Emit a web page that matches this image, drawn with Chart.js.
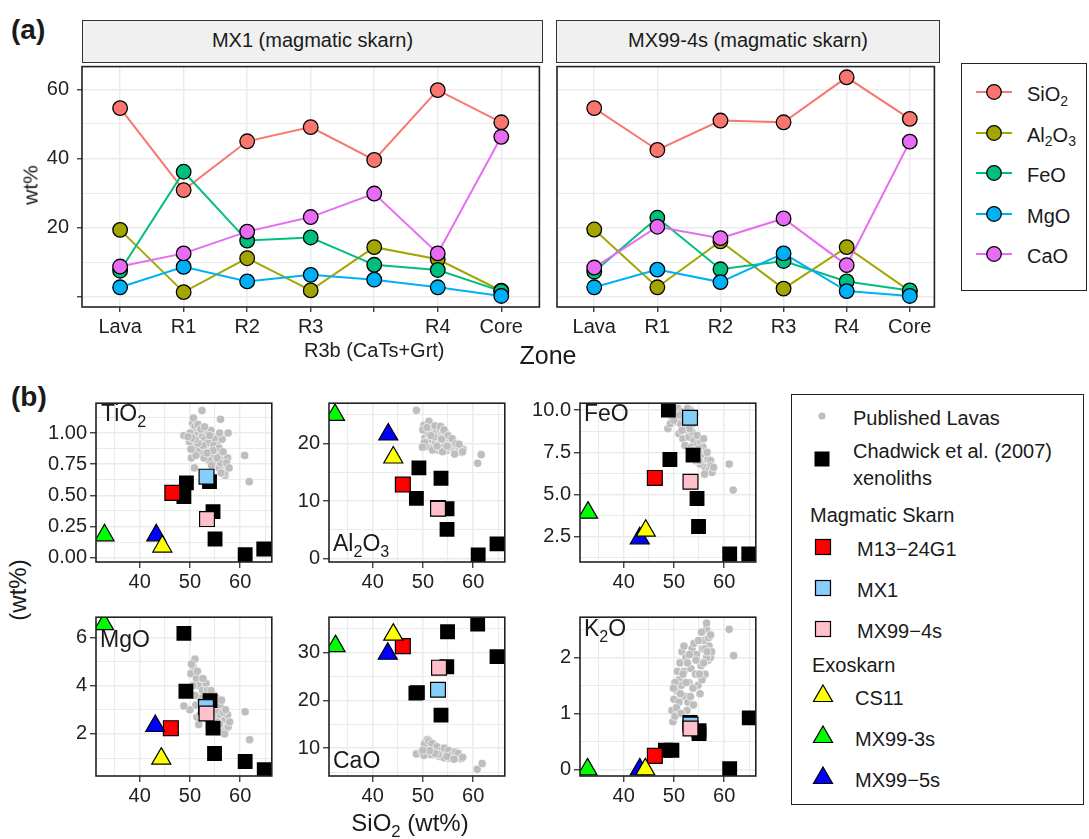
<!DOCTYPE html>
<html>
<head>
<meta charset="utf-8">
<script src="https://cdn.jsdelivr.net/npm/chart.js@4.4.1/dist/chart.umd.min.js"></script>
<style>
  body { margin: 0; background: #fff; }
  #fig { position: relative; width: 1089px; height: 839px; overflow: hidden;
         font-family: "Liberation Sans", Arial, sans-serif; color: #1a1a1a; }
  canvas { position: absolute; }
  .t { position: absolute; white-space: nowrap; line-height: 1; transform: translateY(-50%); }
  .c { transform: translate(-50%, -50%); }
  .rot { transform: translate(-50%, -50%) rotate(-90deg); }
  .strip { position: absolute; background: #F0F0F0; border: 1.6px solid #333; box-sizing: border-box;
           text-align: center; font-size: 20px; line-height: 39px; color: #1a1a1a; }
  .box { position: absolute; border: 1.6px solid #222; box-sizing: border-box; }
  .mk { position: absolute; transform: translate(-50%, -50%); }
  sub { font-size: 70%; vertical-align: baseline; position: relative; top: 0.35em; }
</style>
</head>
<body>
<div id="fig">
  <div class="t" style="left:11px;top:30px;font-size:28px;font-weight:bold;">(a)</div>
  <div class="t" style="left:11px;top:397px;font-size:28px;font-weight:bold;">(b)</div>

  <div class="strip" style="left:82px;top:20px;width:461px;height:43px;">MX1 (magmatic skarn)</div>
  <div class="strip" style="left:556px;top:20px;width:384px;height:43px;">MX99-4s (magmatic skarn)</div>

  <canvas id="cMX1" width="548" height="310" style="left:0px;top:58px;width:548px;height:310px;"></canvas>
  <canvas id="cMX99" width="396" height="310" style="left:547px;top:58px;width:396px;height:310px;"></canvas>

  <div class="t rot" style="left:30px;top:185px;font-size:21px;">wt%</div>
  <div class="t c" style="left:548px;top:355px;font-size:25px;">Zone</div>

  <div class="box" id="legA" style="left:961px;top:63px;width:126px;height:228px;"></div>

  <canvas id="cTiO2" width="248" height="211" style="left:36px;top:391px;width:248px;height:211px;"></canvas>
  <canvas id="cAl2O3" width="248" height="211" style="left:269px;top:391px;width:248px;height:211px;"></canvas>
  <canvas id="cFeO" width="248" height="211" style="left:520px;top:391px;width:248px;height:211px;"></canvas>
  <canvas id="cMgO" width="248" height="211" style="left:36px;top:605px;width:248px;height:211px;"></canvas>
  <canvas id="cCaO" width="248" height="211" style="left:269px;top:605px;width:248px;height:211px;"></canvas>
  <canvas id="cK2O" width="248" height="211" style="left:520px;top:605px;width:248px;height:211px;"></canvas>

  <div class="t" style="left:101px;top:413px;font-size:23px;">TiO<sub>2</sub></div>
  <div class="t" style="left:333px;top:543px;font-size:23px;">Al<sub>2</sub>O<sub>3</sub></div>
  <div class="t" style="left:584px;top:413px;font-size:23px;">FeO</div>
  <div class="t" style="left:100px;top:639px;font-size:23px;">MgO</div>
  <div class="t" style="left:333px;top:760px;font-size:23px;">CaO</div>
  <div class="t" style="left:584px;top:628px;font-size:23px;">K<sub>2</sub>O</div>

  <div class="t rot" style="left:18px;top:590px;font-size:24px;">(wt%)</div>
  <div class="t c" style="left:410px;top:823px;font-size:24px;">SiO<sub>2</sub> (wt%)</div>

  <div class="box" id="legB" style="left:791px;top:394px;width:293px;height:411px;"></div>
</div>

<script>
// ---------- (a) zone profiles ----------
var oxides = ['SiO2', 'Al2O3', 'FeO', 'MgO', 'CaO'];
var zonesMX1 = ['Lava', 'R1', 'R2', 'R3', 'R3b (CaTs+Grt)', 'R4', 'Core'];
var zonesMX99 = ['Lava', 'R1', 'R2', 'R3', 'R4', 'Core'];
var wtTicks = [0, 10, 20, 30, 40, 50, 60];          // labelled: 20, 40, 60

var mx1SiO2  = [54.6, 30.9, 45.0, 49.1, 39.6, 59.8, 50.5];
var mx1Al2O3 = [19.4, 1.4, 11.2, 1.9, 14.4, 10.9, 1.8];
var mx1FeO   = [7.6, 36.2, 16.3, 17.2, 9.3, 7.8, 1.7];
var mx1MgO   = [2.8, 8.7, 4.5, 6.4, 5.0, 2.8, 0.3];
var mx1CaO   = [8.8, 12.6, 18.9, 23.1, 29.9, 12.6, 46.3];

var mx99SiO2  = [54.6, 42.5, 51.0, 50.5, 63.5, 51.5];
var mx99Al2O3 = [19.5, 2.8, 16.1, 2.4, 14.4, 1.7];
var mx99FeO   = [7.3, 22.9, 8.0, 10.4, 4.5, 1.9];
var mx99MgO   = [2.8, 7.9, 4.3, 12.6, 1.7, 0.3];
var mx99CaO   = [8.5, 20.3, 17.0, 22.7, 9.2, 44.9];

// ---------- (b) Harker diagrams, [SiO2, oxide] ----------
var sio2Ticks  = [35, 40, 45, 50, 55, 60, 65];
var tio2Ticks  = [0, 0.125, 0.25, 0.375, 0.5, 0.625, 0.75, 0.875, 1, 1.125];
var al2o3Ticks = [0, 5, 10, 15, 20, 25];
var feoTicks   = [1.25, 2.5, 3.75, 5, 6.25, 7.5, 8.75, 10];
var mgoTicks   = [1, 2, 3, 4, 5, 6];
var caoTicks   = [5, 10, 15, 20, 25, 30, 35];
var k2oTicks   = [0, 0.5, 1, 1.5, 2, 2.5];

var lavaTiO2 = [[52.4,1.18],[56.1,1.11],[57.6,1.00],[60.9,0.82],[61.8,0.61],[48.8,0.98],[50.3,0.80],[50.9,0.72],
  [50.5,1.08],[51.0,1.05],[50.8,1.00],[51.3,0.98],[50.0,1.00],[51.8,0.95],[52.0,0.92],[52.5,0.97],[53.0,0.95],
  [53.5,1.02],[54.2,1.02],[54.5,0.97],[55.0,0.95],[55.5,0.90],[53.2,0.88],[52.4,0.85],[51.5,0.87],[50.8,0.90],
  [54.0,0.85],[54.8,0.82],[55.5,0.85],[56.0,0.82],[56.3,0.78],[55.2,0.76],[56.8,0.74],[57.2,0.70],[56.5,0.70],
  [55.8,0.72],[57.0,0.66],[56.1,0.76],[53.8,0.78],[57.5,0.80],[52.8,0.80],[51.2,0.82],[49.9,0.93],[50.2,0.87],
  [53.6,0.92],[54.3,0.74],[50.7,1.12],[51.6,1.07],[52.2,1.03],[52.9,1.05],[53.9,0.98],[54.7,0.90],[55.8,0.88],
  [56.6,0.85],[57.3,0.76],[56.9,0.68],[55.4,0.80],[54.6,0.86],[53.4,0.84],[52.6,0.90],[51.6,0.92],[51.0,0.95],
  [50.4,0.96],[49.6,0.97],[56.4,0.95],[55.9,1.00],[57.8,0.72],[56.2,0.68]];
var lavaAl2O3 = [[48.7,25.8],[61.6,18.1],[60.9,16.6],[50.2,23.2],[51.2,23.9],[51.8,22.6],[52.6,22.0],[53.2,22.7],
  [53.8,21.5],[50.4,21.0],[50.9,20.4],[51.3,19.8],[51.6,20.8],[52.1,19.4],[52.5,20.2],[52.9,18.9],[53.3,20.0],
  [53.6,19.2],[54.0,20.5],[54.3,19.6],[54.7,18.8],[55.0,20.1],[55.3,19.3],[55.7,19.8],[56.1,19.1],[56.4,18.7],
  [56.8,19.5],[57.3,19.0],[57.6,18.5],[58.0,19.0],[55.2,21.0],[54.5,21.9],[53.0,21.0],[51.0,21.9],[52.2,21.2],
  [50.6,19.5],[56.0,20.3],[53.9,18.6],[50.0,22.4],[50.8,22.8],[51.6,21.4],[52.4,23.1],[53.5,23.0],[54.2,22.4],
  [55.0,21.4],[55.8,20.9],[56.6,20.0],[57.2,19.9],[57.9,18.6],[51.9,18.9],[50.3,20.2],[53.7,20.8],[54.8,19.6],
  [56.3,18.2],[52.8,19.6],[49.9,19.4]];
var lavaFeO = [[48.8,8.9],[49.6,9.6],[50.2,9.9],[50.8,10.1],[51.5,9.9],[52.3,9.8],[53.3,10.0],[50.6,9.3],[51.3,9.2],
  [52.0,9.5],[51.0,8.6],[51.8,8.3],[52.5,8.8],[53.0,8.4],[52.2,7.9],[53.6,8.7],[54.0,8.2],[53.5,7.8],[54.3,7.6],
  [54.8,8.0],[55.4,8.1],[55.0,7.4],[55.6,7.5],[56.0,7.2],[55.5,6.9],[56.4,6.9],[56.8,7.1],[56.2,6.6],[57.0,6.5],
  [57.6,6.3],[57.3,7.0],[55.2,6.8],[54.4,7.0],[53.8,9.2],[52.8,9.3],[61.0,6.8],[61.8,5.26],[49.3,9.2],[50.0,9.4],
  [51.1,9.7],[52.7,10.1],[54.2,9.8],[52.4,9.0],[53.1,8.9],[54.6,8.5],[55.8,7.8],[56.6,7.5],[57.4,6.7],[56.1,6.2],
  [55.0,7.0],[53.7,7.6],[54.9,7.7],[57.9,6.6],[51.6,8.8],[55.9,8.3]];
var lavaMgO = [[51.0,5.1],[50.6,4.8],[50.2,4.5],[51.3,4.3],[51.8,4.0],[50.6,4.0],[52.5,3.8],[53.2,4.1],[52.0,3.5],
  [53.0,3.3],[52.5,3.1],[53.8,3.5],[54.4,3.4],[54.0,3.0],[55.0,3.1],[55.5,2.9],[54.6,2.7],[56.0,2.7],[56.5,2.5],
  [57.0,2.6],[57.5,2.8],[56.2,2.3],[57.2,2.2],[55.8,2.1],[55.0,2.4],[53.5,2.6],[51.75,2.39],[51.4,2.7],[50.0,3.0],
  [48.8,3.16],[52.0,2.8],[53.8,2.3],[57.6,2.3],[54.8,3.6],[61.0,2.92],[61.9,1.76],[50.3,4.9],[51.5,4.6],[51.0,3.6],
  [52.6,4.3],[53.5,3.8],[54.2,3.8],[55.2,3.5],[56.0,3.2],[56.6,2.9],[57.1,3.0],[56.9,2.0],[55.4,2.5],[54.3,2.5],
  [52.9,2.9],[51.2,3.2],[56.3,3.4],[55.9,2.4],[57.9,2.5]];
var lavaCaO = [[48.7,8.8],[49.8,9.2],[50.5,11.3],[50.9,11.8],[51.1,10.8],[50.7,10.2],[51.5,10.5],[51.8,9.9],[52.2,9.4],
  [52.0,8.6],[52.6,9.7],[53.0,9.0],[53.4,10.0],[53.6,8.8],[54.0,9.3],[54.5,8.6],[54.8,9.1],[55.3,8.4],[55.6,9.0],
  [56.0,8.2],[56.4,8.6],[56.8,8.0],[57.2,8.4],[57.6,7.8],[55.0,7.9],[53.2,8.3],[51.5,8.7],[50.2,8.5],[52.4,10.6],
  [54.2,8.0],[60.8,5.6],[61.8,6.8],[50.3,10.8],[51.2,11.5],[51.8,11.0],[52.8,10.3],[53.8,9.6],[54.3,10.0],
  [55.1,9.5],[55.8,8.6],[56.5,9.2],[57.0,8.9],[57.9,8.1],[53.0,8.7],[52.4,8.9],[54.8,8.3],[56.2,7.7],[51.3,9.5],
  [50.0,9.6]];
var lavaK2O = [[49.8,0.85],[49.6,1.05],[50.2,0.95],[50.0,1.25],[50.6,1.4],[51.0,1.6],[50.7,1.75],[51.2,1.9],[51.6,2.1],
  [52.0,2.2],[52.4,2.0],[52.0,1.75],[51.5,1.5],[52.2,1.3],[52.8,1.2],[53.0,1.55],[53.4,1.8],[53.6,2.15],[54.0,2.25],
  [54.5,2.05],[54.3,1.7],[54.8,1.5],[55.2,1.35],[55.4,1.85],[55.7,2.15],[56.0,2.3],[56.5,2.5],[56.5,2.61],[56.8,1.95],
  [57.0,2.2],[57.3,2.0],[56.2,1.7],[55.6,1.6],[53.3,1.3],[51.0,1.2],[50.2,1.55],[61.0,2.5],[61.9,2.03],[49.9,1.45],
  [50.5,1.1],[51.3,1.35],[51.8,1.7],[52.4,1.55],[52.7,1.9],[53.1,2.05],[53.8,1.45],[54.4,1.95],[54.9,2.3],[55.5,2.45],
  [56.2,2.15],[56.9,2.35],[57.3,2.4],[56.5,2.0],[55.9,1.9],[55.1,1.7],[53.9,1.15],[52.6,1.05],[51.4,1.0],[57.5,2.1],
  [56.6,2.1]];

var xenoTiO2  = [[49.3,0.60],[48.8,0.49],[53.9,0.61],[54.6,0.37],[55.0,0.15],[61.0,0.025],[64.7,0.07]];
var xenoAl2O3 = [[49.2,15.8],[48.7,10.5],[53.6,14.0],[54.8,8.7],[54.8,5.1],[61.0,0.66],[64.75,2.6]];
var xenoFeO   = [[48.9,10.0],[49.2,7.07],[53.8,7.33],[54.6,4.76],[54.9,3.1],[61.1,1.47],[64.9,1.47]];
var xenoMgO   = [[48.8,6.17],[49.2,3.77],[54.0,3.38],[54.6,2.24],[54.9,1.19],[61.0,0.86],[64.8,0.52]];
var xenoCaO   = [[48.6,21.5],[48.9,21.6],[53.6,16.9],[54.75,27.0],[54.9,34.3],[60.9,35.9],[64.75,29.1]];
var xenoK2O   = [[48.3,0.34],[49.6,0.34],[53.2,0.84],[55.0,0.69],[55.0,0.64],[61.1,0.01],[65.0,0.92]];

// samples, one point per panel: TiO2, Al2O3, FeO, MgO, CaO, K2O
var m1324G1 = [[46.5,0.52],[46.0,12.9],[46.2,5.98],[46.2,2.24],[46.0,31.3],[46.2,0.24]];
var mx1     = [[53.3,0.65],[53.0,8.8],[53.2,9.55],[53.2,3.12],[53.0,22.2],[53.3,0.80]];
var mx994s  = [[53.4,0.31],[53.0,8.7],[53.3,5.75],[53.3,2.85],[53.2,26.8],[53.3,0.73]];
var cs11    = [[44.5,0.09],[44.1,17.6],[44.4,2.85],[44.3,0.98],[44.1,33.7],[44.3,0.0]];
var mx993s  = [[33.0,0.18],[32.5,25.0],[32.9,3.92],[32.9,6.55],[32.6,31.3],[32.8,0.0]];
var mx995s  = [[43.3,0.18],[43.1,21.6],[43.2,2.4],[43.1,2.33],[43.0,29.7],[43.2,0.0]];

var lavaLabel = 'Published Lavas';
var xenoLabel = ['Chadwick et al. (2007)', 'xenoliths'];
var groupLabels = ['Magmatic Skarn', 'Exoskarn'];
var sampleNames = ['M13\u221224G1', 'MX1', 'MX99\u22124s', 'CS11', 'MX99-3s', 'MX99\u22125s'];

// ---------- styling ----------
Chart.defaults.font.family = '"Liberation Sans", Arial, sans-serif';
Chart.defaults.color = '#222';

var oxideColors = ['#F8766D', '#A3A500', '#00BF7D', '#00B0F6', '#E76BF3'];
var samples = [
  { pts: m1324G1, color: '#FF0000', shape: 'rect', order: 7 },
  { pts: mx1, color: '#87CEFA', shape: 'rect', order: 6 },
  { pts: mx994s, color: '#FFC0CB', shape: 'rect', order: 5 },
  { pts: cs11, color: '#FFFF00', shape: 'triangle', order: 2 },
  { pts: mx993s, color: '#00FF00', shape: 'triangle', order: 4 },
  { pts: mx995s, color: '#0000FF', shape: 'triangle', order: 3 }
];

function sub(name) { return name.replace(/(\d)/g, '<sub>$1</sub>'); }
function isMul(v, step) { var r = v / step; return Math.abs(r - Math.round(r)) < 1e-6; }
function xy(arr) { return arr.map(function (p) { return { x: p[0], y: p[1] }; }); }

// black frame round each panel, drawn over the data like ggplot's panel.border
var boxPlugin = {
  id: 'panelBox',
  afterDraw: function (chart) {
    var a = chart.chartArea, c = chart.ctx;
    c.save();
    c.strokeStyle = '#222';
    c.lineWidth = 1.6;
    c.strokeRect(a.left, a.top, a.right - a.left, a.bottom - a.top);
    c.restore();
  }
};

function axis(o) {
  return {
    type: 'linear', min: o.min, max: o.max,
    afterBuildTicks: function (s) { s.ticks = o.ticks.map(function (v) { return { value: v }; }); },
    afterFit: function (s) {
      if (o.w != null) s.width = o.w;
      if (o.h != null) s.height = o.h;
      s.paddingTop = 0; s.paddingBottom = 0; s.paddingLeft = 0; s.paddingRight = 0;
    },
    grid: {
      color: '#EBEBEB',
      lineWidth: function (c) { return c.tick && isMul(c.tick.value, o.major) ? 1.5 : 1.1; },
      tickColor: function (c) { return c.tick && isMul(c.tick.value, o.major) ? '#333' : 'rgba(0,0,0,0)'; },
      drawTicks: o.tick > 0, tickLength: o.tick, tickWidth: 1.3
    },
    border: { display: false },
    ticks: {
      autoSkip: false, maxRotation: 0, minRotation: 0,
      display: o.labels !== false, padding: o.pad, color: '#222', font: { size: 20 },
      callback: function (v) { return isMul(v, o.major) ? o.fmt(v) : ''; }
    }
  };
}

function baseOptions(scales, pad) {
  return {
    responsive: false, animation: false, events: [],
    layout: { padding: pad },
    plugins: { legend: { display: false }, tooltip: { enabled: false } },
    scales: scales
  };
}

function zoneChart(id, zones, series, xr, yAxisOpts, padR) {
  var ds = [];
  series.forEach(function (vals, i) {
    var pts = vals.map(function (v, k) { return { x: k, y: v }; });
    // lines under all points, later oxides on top
    ds.push({ label: oxides[i], data: pts, showLine: true, borderColor: oxideColors[i], borderWidth: 2,
              pointRadius: 0, order: 20 - i, clip: false });
    ds.push({ label: oxides[i], data: pts, showLine: false, backgroundColor: oxideColors[i], borderColor: '#000',
              borderWidth: 1.3, pointRadius: 7.3, order: 10 - i, clip: false });
  });
  var xAx = axis({ min: xr[0], max: xr[1], ticks: zones.map(function (z, k) { return k; }),
    major: 1, tick: 5, pad: 3, h: 61,
    fmt: function (v) { var z = zones[Math.round(v)]; return z.indexOf('R3b') === 0 ? ['', z] : z; } });
  new Chart(document.getElementById(id), {
    type: 'scatter',
    data: { datasets: ds },
    options: baseOptions({ x: xAx, y: axis(yAxisOpts) }, { top: 4, right: padR, left: 0, bottom: 0 }),
    plugins: [boxPlugin]
  });
}

zoneChart('cMX1', zonesMX1, [mx1SiO2, mx1Al2O3, mx1FeO, mx1MgO, mx1CaO], [-0.6, 6.6],
  { min: -2.9, max: 66.6, ticks: wtTicks, major: 20, tick: 5, pad: 8, w: 82,
    fmt: function (v) { return v === 0 ? '' : String(v); } }, 6);
zoneChart('cMX99', zonesMX99, [mx99SiO2, mx99Al2O3, mx99FeO, mx99MgO, mx99CaO], [-0.59, 5.39],
  { min: -2.9, max: 66.6, ticks: wtTicks, major: 20, tick: 0, pad: 0, w: 10, labels: false,
    fmt: function (v) { return String(v); } }, 4);

var panels = [
  { id: 'cTiO2', k: 0, lava: lavaTiO2, xeno: xenoTiO2, min: -0.034, max: 1.239, ticks: tio2Ticks, major: 0.25,
    fmt: function (v) { return v.toFixed(2); } },
  { id: 'cAl2O3', k: 1, lava: lavaAl2O3, xeno: xenoAl2O3, min: -0.56, max: 27.04, ticks: al2o3Ticks, major: 10,
    fmt: function (v) { return String(v); } },
  { id: 'cFeO', k: 2, lava: lavaFeO, xeno: xenoFeO, min: 0.994, max: 10.41, ticks: feoTicks, major: 2.5,
    fmt: function (v) { return v.toFixed(1); } },
  { id: 'cMgO', k: 3, lava: lavaMgO, xeno: xenoMgO, min: 0.258, max: 6.84, ticks: mgoTicks, major: 2,
    fmt: function (v) { return String(v); } },
  { id: 'cCaO', k: 4, lava: lavaCaO, xeno: xenoCaO, min: 4.2, max: 37.33, ticks: caoTicks, major: 10,
    fmt: function (v) { return String(v); } },
  { id: 'cK2O', k: 5, lava: lavaK2O, xeno: xenoK2O, min: -0.119, max: 2.717, ticks: k2oTicks, major: 1,
    fmt: function (v) { return String(v); } }
];

panels.forEach(function (p) {
  var ds = [
    { label: lavaLabel, data: xy(p.lava), pointStyle: 'circle', pointRadius: 4.1, backgroundColor: '#BEBEBE',
      borderColor: '#FFFFFF', borderWidth: 0.6, order: 9, clip: 0 },
    { label: xenoLabel.join(' '), data: xy(p.xeno), pointStyle: 'rect', pointRadius: 10.5, backgroundColor: '#000',
      borderColor: '#000', borderWidth: 0, order: 8, clip: 0 }
  ];
  samples.forEach(function (s, i) {
    ds.push({ label: sampleNames[i], data: xy([s.pts[p.k]]), pointStyle: s.shape,
      pointRadius: s.shape === 'triangle' ? 11 : 10.5, backgroundColor: s.color, borderColor: '#000',
      borderWidth: 1.2, order: s.order, clip: 0 });
  });
  var xAx = axis({ min: 31.3, max: 66.3, ticks: sio2Ticks, major: 10, tick: 6, pad: 2, h: 40,
    fmt: function (v) { return String(v); } });
  var yAx = axis({ min: p.min, max: p.max, ticks: p.ticks, major: p.major, tick: 6, pad: 3, w: 60, fmt: p.fmt });
  new Chart(document.getElementById(p.id), {
    type: 'scatter',
    data: { datasets: ds },
    options: baseOptions({ x: xAx, y: yAx }, { top: 4, right: 4, left: 0, bottom: 0 }),
    plugins: [boxPlugin]
  });
});

// ---------- legends ----------
function svgMarker(shape, fill, stroke, size, line) {
  var w = line ? 36 : 26, h = 26, cx = w / 2, cy = h / 2, s = '';
  if (line) s += '<line x1="0" y1="' + cy + '" x2="' + w + '" y2="' + cy + '" stroke="' + line + '" stroke-width="2"/>';
  if (shape === 'circle') {
    s += '<circle cx="' + cx + '" cy="' + cy + '" r="' + size + '" fill="' + fill + '"' +
      (stroke ? ' stroke="' + stroke + '" stroke-width="1.3"' : '') + '/>';
  } else if (shape === 'rect') {
    s += '<rect x="' + (cx - size) + '" y="' + (cy - size) + '" width="' + 2 * size + '" height="' + 2 * size +
      '" fill="' + fill + '"' + (stroke ? ' stroke="' + stroke + '" stroke-width="1.2"' : '') + '/>';
  } else {
    var r = size;
    s += '<polygon points="' + cx + ',' + (cy - r) + ' ' + (cx + 0.866 * r) + ',' + (cy + r / 2) + ' ' +
      (cx - 0.866 * r) + ',' + (cy + r / 2) + '" fill="' + fill + '" stroke="' + stroke + '" stroke-width="1.2"/>';
  }
  return '<svg width="' + w + '" height="' + h + '">' + s + '</svg>';
}
function put(parent, html, x, y, cls, size) {
  var d = document.createElement('div');
  d.className = cls;
  d.style.left = x + 'px';
  d.style.top = y + 'px';
  if (size) d.style.fontSize = size + 'px';
  d.innerHTML = html;
  parent.appendChild(d);
}

var legA = document.getElementById('legA');
oxides.forEach(function (o, i) {
  var y = 30 + i * 40.6;
  put(legA, svgMarker('circle', oxideColors[i], '#000', 7.3, oxideColors[i]), 32, y, 'mk');
  put(legA, sub(o), 65, y, 't', 20);
});

var legB = document.getElementById('legB');
put(legB, svgMarker('circle', '#BEBEBE', null, 3.6), 30, 23, 'mk');
put(legB, lavaLabel, 61, 23, 't', 20);
put(legB, svgMarker('rect', '#000', null, 7.5), 30, 66, 'mk');
put(legB, xenoLabel[0], 61, 56, 't', 20);
put(legB, xenoLabel[1], 61, 83, 't', 20);
put(legB, groupLabels[0], 18, 120, 't', 20);
put(legB, groupLabels[1], 20, 270, 't', 20);
samples.forEach(function (s, i) {
  var y = i < 3 ? 154 + i * 41.2 : 303 + (i - 3) * 40.8;
  var m = s.shape === 'rect' ? svgMarker('rect', s.color, '#000', 7.5) : svgMarker('triangle', s.color, '#000', 11);
  put(legB, m, 31, y, 'mk');
  put(legB, sampleNames[i], i < 3 ? 65 : 63, y, 't', 20);
});
</script>
</body>
</html>
